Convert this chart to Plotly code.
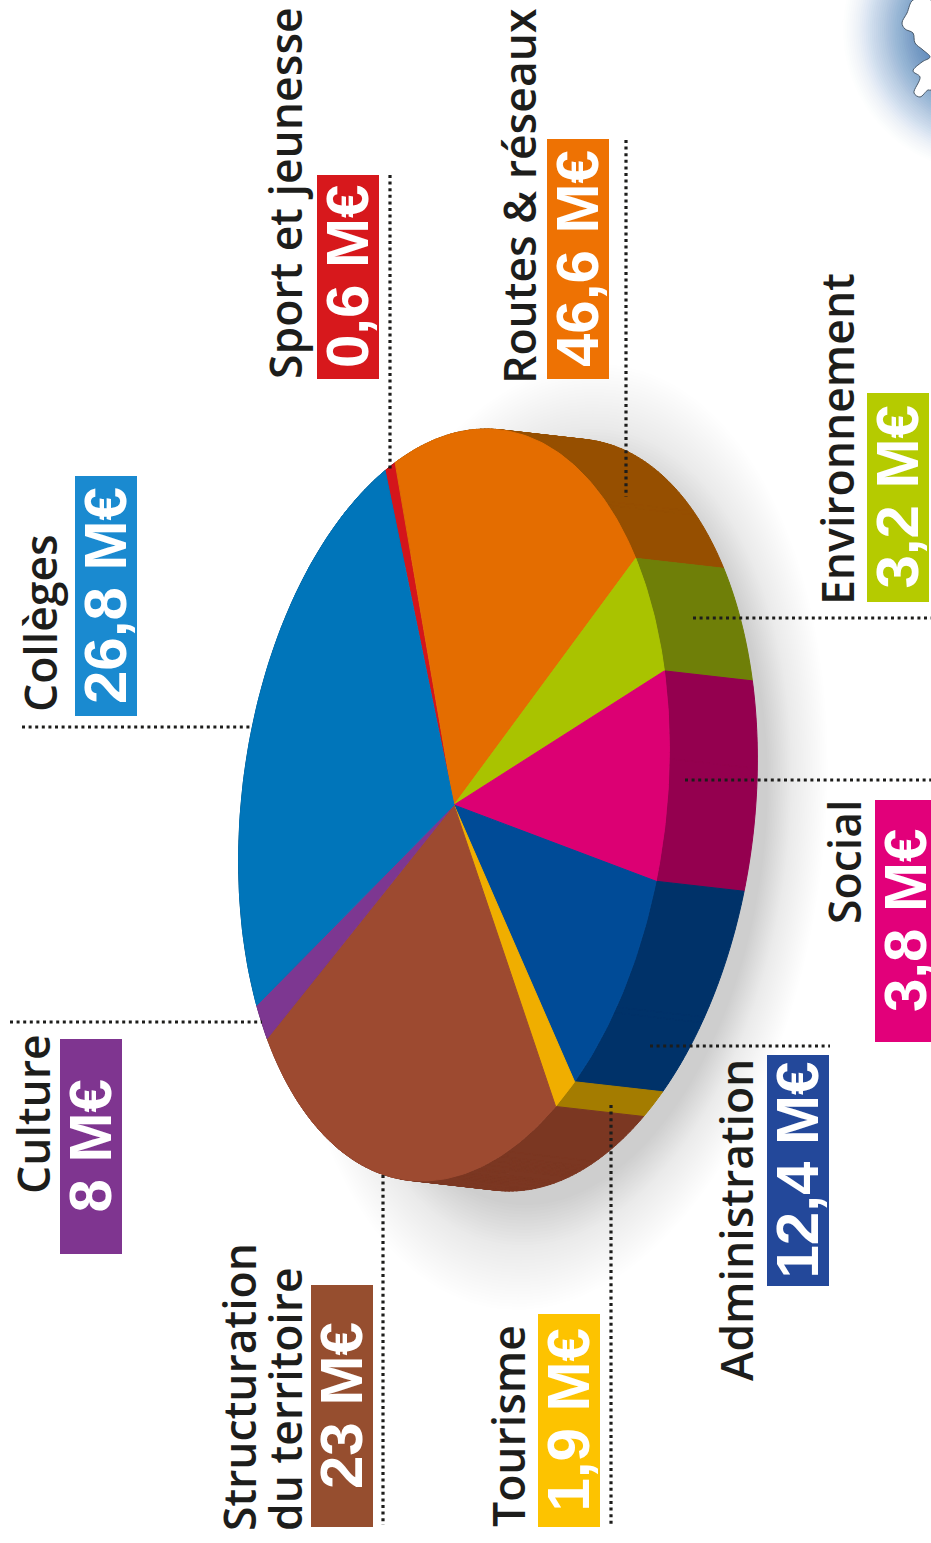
import numpy as np
import plotly.graph_objects as go

# ---- data ----
categories = ["Sport et jeunesse", "Routes & réseaux", "Environnement", "Social", "Administration",
              "Tourisme", "Structuration", "Culture", "Collèges"]
amounts = [0.6, 46.6, 3.2, 3.8, 12.4, 1.9, 23, 8, 26.8]
# the drawing does not follow the amounts: sweep of each slice as drawn, in degrees
drawn_sweep = [2.8, 73.4, 20.1, 32.6, 35.7, 5.9, 88.3, 6.2, 95.0]
top_colors = ["#d4151b", "#e46d00", "#a9c300", "#dc0073", "#004b97", "#f0ae00", "#9d4a30", "#7d3791", "#0075ba"]
wall_colors = ["#8a0f12", "#964f00", "#6f7f08", "#94004f", "#003269", "#a47c00", "#7b3722", "#552560", "#004f80"]
box_colors = ["#d7181c", "#ee7203", "#b5cb00", "#e2007a", "#23489a", "#fdc300", "#964e2f", "#7f3590", "#1a8ad0"]

# ---- layout of the infographic, pixels ----
W, H = 931, 1543
START = -117.2
CX, CY, RX, SKEW, RY = 454, 805, 213, 32, 376
DEPTH = (88, 10)
boxes = [(317, 379, 175, 379), (547, 609, 139, 379), (867, 929, 393, 602), (875, 937, 800, 1042),
         (767, 829, 1055, 1286), (538, 600, 1314, 1527), (311, 373, 1285, 1527), (60, 122, 1039, 1254),
         (75, 137, 476, 716)]
leaders = [((390, 390), (175, 470)), ((626, 626), (140, 497)), ((693, 931), (618, 618)), ((685, 931), (780, 780)),
           ((650, 830), (1046, 1046)), ((611, 611), (1105, 1525)), ((383, 383), (1175, 1525)),
           ((10, 262), (1022, 1022)), ((22, 253), (727, 727))]
# (text, centre x, bottom y) for the category names
name_pos = [("Sport et jeunesse", 284, 381), ("Routes & réseaux", 518, 386), ("Environnement", 836, 607),
            ("Social", 843, 926), ("Administration", 735, 1383), ("Tourisme", 507, 1529),
            ("Structuration", 238, 1533), ("du territoire", 284, 1533), ("Culture", 32, 1196), ("Collèges", 39, 714)]
coast_x = [913, 907, 902, 905, 913, 915, 923, 930, 922, 913, 920, 914, 920, 928, 931, 931, 913]
coast_y = [0, 13, 23, 29, 33, 43, 50, 57, 62, 71, 77, 93, 97, 90, 90, 0, 0]


def disc(t_deg, scale=1.0, dx=0, dy=0):
    t = np.radians(np.asarray(t_deg, dtype=float))
    c, s = np.cos(t) * scale, np.sin(t) * scale
    return CX + RX * c - SKEW * s + dx, CY + RY * s + dy


fig = go.Figure()


def poly(x, y, color, line=False, line_color=None, shape="linear"):
    fig.add_trace(go.Scatter(x=list(x), y=list(y), mode="lines", fill="toself", fillcolor=color,
                             line=dict(width=1 if line else 0, color=line_color or color, shape=shape),
                             hoverinfo="skip", showlegend=False))


# soft shadow behind the pie
full = np.linspace(0, 360, 181)
for sc in np.linspace(1.30, 0.98, 40):
    x, y = disc(full, sc, 103, 32)
    a = 0.001 + 0.0075 * (1.30 - sc) / 0.32
    poly(x, y, f"rgba(20,20,30,{a:.4f})")

# blue glow in the corner, and the white shore cut out of it
ang = np.linspace(0, 360, 121)
for r in np.linspace(142, 62, 40):
    a = 0.008 + 0.05 * (142 - r) / 80
    poly(985 + r * np.cos(np.radians(ang)), 30 + r * np.sin(np.radians(ang)), f"rgba(60,115,180,{a:.4f})")
poly(coast_x, coast_y, "#ffffff", line=True, line_color="#4a5a6a", shape="spline")

# wall: every slice is swept along the depth, as small quads in one trace
edges = START + np.concatenate([[0], np.cumsum(drawn_sweep)])
for i in range(len(categories)):
    t = np.linspace(edges[i], edges[i + 1], max(4, int(drawn_sweep[i]) + 2))
    x1, y1 = disc(t)
    qx, qy = [], []
    for k in range(len(t) - 1):
        qx += [x1[k], x1[k + 1], x1[k + 1] + DEPTH[0], x1[k] + DEPTH[0], x1[k], None]
        qy += [y1[k], y1[k + 1], y1[k + 1] + DEPTH[1], y1[k] + DEPTH[1], y1[k], None]
    poly(qx, qy, wall_colors[i], line=True)
# top of every slice
for i in range(len(categories)):
    t = np.linspace(edges[i], edges[i + 1], max(4, int(drawn_sweep[i]) + 2))
    x1, y1 = disc(t)
    poly(np.r_[CX, x1, CX], np.r_[CY, y1, CY], top_colors[i], line=drawn_sweep[i] > 3)

# dotted leaders
for lx, ly in leaders:
    fig.add_trace(go.Scatter(x=lx, y=ly, mode="lines", hoverinfo="skip", showlegend=False,
                             line=dict(color="#1d1d1b", width=3.2, dash="3px,3.6px")))

shapes = []
annots = []
for i, (x0, x1, y0, y1) in enumerate(boxes):
    shapes.append(dict(type="rect", xref="x", yref="y", x0=x0, x1=x1, y0=y0, y1=y1,
                       fillcolor=box_colors[i], line=dict(width=0), layer="above"))
    label = f"{amounts[i]:g}".replace(".", ",") + " M€"
    annots.append(dict(x=(x0 + x1) / 2 - 1, y=(y0 + y1) / 2, xref="x", yref="y", text=f"<b>{label}</b>", textangle=-90,
                       showarrow=False, xanchor="center", yanchor="middle",
                       font=dict(family="Liberation Sans", size=60, color="#ffffff")))
for text, x, y in name_pos:
    annots.append(dict(x=x, y=y, xref="x", yref="y", text=text, textangle=-90, showarrow=False,
                       xanchor="center", yanchor="bottom",
                       font=dict(family="Open Sans", size=44.5, weight=600, color="#1d1d1b")))

fig.update_layout(width=W, height=H, margin=dict(l=0, r=0, t=0, b=0), paper_bgcolor="#ffffff", plot_bgcolor="#ffffff",
                  xaxis=dict(range=[0, W], visible=False, fixedrange=True),
                  yaxis=dict(range=[H, 0], visible=False, fixedrange=True),
                  shapes=shapes, annotations=annots, showlegend=False)
fig.write_html("out.html", config={"displayModeBar": False},
               post_script="document.body.style.margin='0';document.body.style.overflow='hidden';")
